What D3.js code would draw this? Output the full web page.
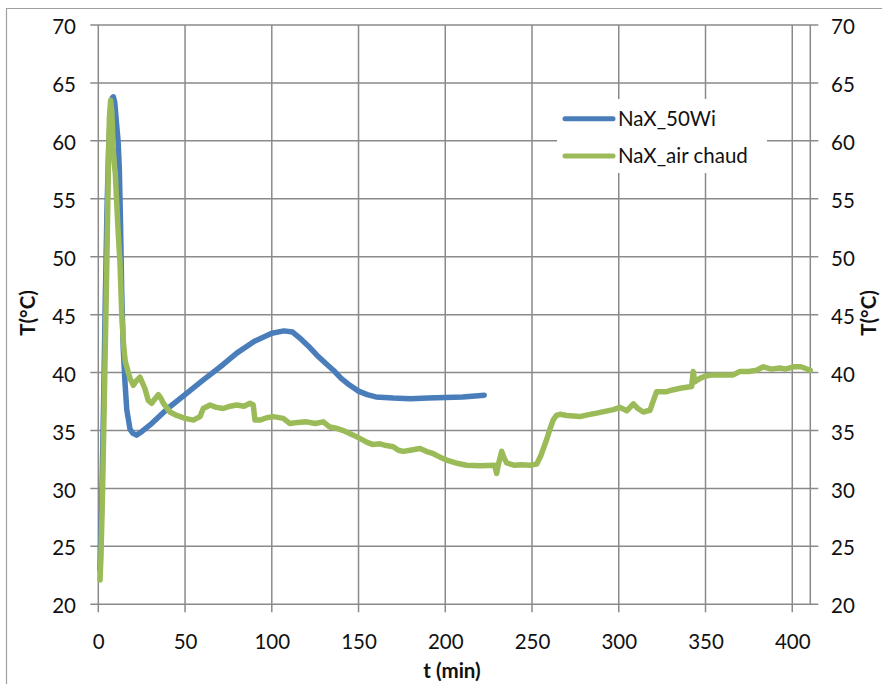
<!DOCTYPE html>
<html><head><meta charset="utf-8">
<script src="https://cdn.jsdelivr.net/npm/d3@7"></script>
<style>
body{margin:0;background:#fff;}
text{font-family:Lato,"Open Sans",sans-serif;fill:#111;}
</style></head>
<body><svg id="c" width="882" height="684"></svg>
<script>
// ---- data ----
const xTicks = [0,50,100,150,200,250,300,350,400];
const yTicks = [20,25,30,35,40,45,50,55,60,65,70];
const seriesNames = ["NaX_50Wi","NaX_air chaud"];
const seriesColors = ["#4a7ebb","#9bbb59"];
const blueTime = [1,2,3,4,5,6,7,8,8.7,9.5,10.5,11.4,12.1,12.8,13.5,14.4,15.4,16.4,18.3,20,22,25,30,40,50,60,66,72,80,90,100,107,112,116,121,126,131,135.5,140,145,150,155,160,170,180,190,200,210,222.5];
const blueTemp = [23,29,37,46,54,59.5,62.5,63.7,63.8,63.3,61.5,60,57.7,53,47,42,39.1,36.8,35.1,34.75,34.6,34.9,35.5,36.9,38.1,39.3,40.0,40.7,41.7,42.7,43.4,43.6,43.5,43.0,42.3,41.5,40.8,40.2,39.5,38.9,38.4,38.1,37.9,37.8,37.75,37.8,37.85,37.9,38.05];
const greenTime = [1,1.5,2.5,3.5,4.5,5.2,5.8,6.4,7.1,7.8,8.5,9.2,9.8,10.5,11.5,12.5,13.5,14.5,15.5,17.3,18.3,20.2,22,24,25.5,26.9,28.8,30.8,32.5,34.6,36,37.5,41.3,45.2,50,54.8,58.6,60.5,64.4,68,72,76,79.8,84,87.4,89.3,90.3,93.2,97,100.9,106.6,110.5,115,120.1,125,129.7,133.5,137,141.2,144,147,151,154.7,158,162.4,166,170,173,175.8,179.7,185.4,189,193.1,197,200.8,206,212.3,220,228.5,229.6,230.5,232.5,234,235.4,240,244,248.8,252.7,255,258.4,260.5,262.2,264,266.1,270,277.6,282,287.3,292,296.9,300.7,304.6,308.4,311,314.1,318,320,321.8,327.6,331,335.3,342,342.9,343.9,346.8,350,354.5,360,366,369.9,375,379.5,383.3,388,392.9,396,400.6,405,410.4];
const greenTemp = [22.1,24,30,38,46,52,58,62,63.5,62.5,59.5,58,57.2,55,52,49.5,45.1,42.5,41,40,39.5,38.9,39.3,39.6,39.1,38.6,37.6,37.35,37.7,38.1,37.8,37.35,36.6,36.3,36.05,35.9,36.2,36.9,37.2,37.0,36.9,37.1,37.2,37.1,37.35,37.2,35.9,35.9,36.1,36.2,36.05,35.6,35.7,35.75,35.6,35.75,35.3,35.2,35.0,34.8,34.6,34.3,34.0,33.8,33.85,33.7,33.6,33.3,33.2,33.3,33.45,33.2,33.0,32.7,32.45,32.2,32.0,31.95,32.0,31.3,32.0,33.2,32.6,32.2,32.0,32.05,32.0,32.1,32.8,34.2,35.2,35.9,36.3,36.4,36.3,36.2,36.35,36.5,36.65,36.8,37.0,36.7,37.3,36.9,36.6,36.75,37.6,38.35,38.35,38.5,38.65,38.8,40.1,39.2,39.5,39.7,39.8,39.8,39.8,40.1,40.1,40.2,40.5,40.3,40.4,40.3,40.5,40.5,40.2];
const xTitle = "t (min)";
const yTitle = "T(°C)";

// ---- chart ----
const svg = d3.select("#c");
const x = d3.scaleLinear().domain([0,410.4]).range([98.3,810.3]);
const y = d3.scaleLinear().domain([20,70]).range([604.3,25]);
const grid = "#8a8a8a";

svg.append("path").attr("d","M6.5,684V8.5H882").attr("fill","none").attr("stroke","#a0a0a0").attr("stroke-width",1.2);

svg.append("g").selectAll("line").data(yTicks).join("line")
  .attr("x1",x(0)-8).attr("x2",x(410.4)+8).attr("y1",d=>y(d)).attr("y2",d=>y(d))
  .attr("stroke",grid).attr("stroke-width",1.5);
svg.append("g").selectAll("line").data(xTicks.concat([410.4])).join("line")
  .attr("x1",d=>x(d)).attr("x2",d=>x(d)).attr("y1",y(70)).attr("y2",d=>d===410.4?y(20):y(20)+8)
  .attr("stroke",grid).attr("stroke-width",1.5);

const fs = 20.5;
const styleText = g=>{g.select(".domain").remove(); g.selectAll("text").attr("font-size",fs).attr("font-family","Lato").attr("fill","#111");};
svg.append("g").attr("transform","translate(76,0)").call(d3.axisLeft(y).tickValues(yTicks).tickSize(0).tickPadding(0))
  .call(styleText).call(g=>g.selectAll("text").attr("dy","0.42em"));
svg.append("g").attr("transform","translate(831,0)").call(d3.axisRight(y).tickValues(yTicks).tickSize(0).tickPadding(0))
  .call(styleText).call(g=>g.selectAll("text").attr("dy","0.42em"));
svg.append("g").attr("transform","translate(0,634)").call(d3.axisBottom(x).tickValues(xTicks).tickSize(0).tickPadding(0))
  .call(styleText);

svg.append("text").attr("x",452).attr("y",678).attr("text-anchor","middle")
  .attr("font-size",fs).attr("font-weight","bold").text(xTitle);
svg.append("text").attr("transform","translate(35,313) rotate(-90)").attr("text-anchor","middle")
  .attr("font-size",fs).attr("font-weight","bold").text(yTitle);
svg.append("text").attr("transform","translate(876,313) rotate(-90)").attr("text-anchor","middle")
  .attr("font-size",fs).attr("font-weight","bold").text(yTitle);

const line = d3.line().x(d=>x(d[0])).y(d=>y(d[1]));
const blue = blueTime.map((t,i)=>[t,blueTemp[i]]);
const green = greenTime.map((t,i)=>[t,greenTemp[i]]);
[blue,green].forEach((s,i)=>{
  svg.append("path").datum(s).attr("d",line).attr("fill","none")
    .attr("stroke",seriesColors[i]).attr("stroke-width",5.5)
    .attr("stroke-linejoin","round").attr("stroke-linecap","round");
});

const lg = svg.append("g");
lg.append("rect").attr("x",557).attr("y",99).attr("width",210).attr("height",74).attr("fill","#fff");
seriesNames.forEach((n,i)=>{
  const yy = 118.7 + i*37.3;
  lg.append("line").attr("x1",565).attr("x2",613).attr("y1",yy).attr("y2",yy)
    .attr("stroke",seriesColors[i]).attr("stroke-width",5).attr("stroke-linecap","round");
  lg.append("text").attr("x",618).attr("y",yy).attr("dy","0.36em").attr("font-size",fs).text(n);
});
</script></body></html>
